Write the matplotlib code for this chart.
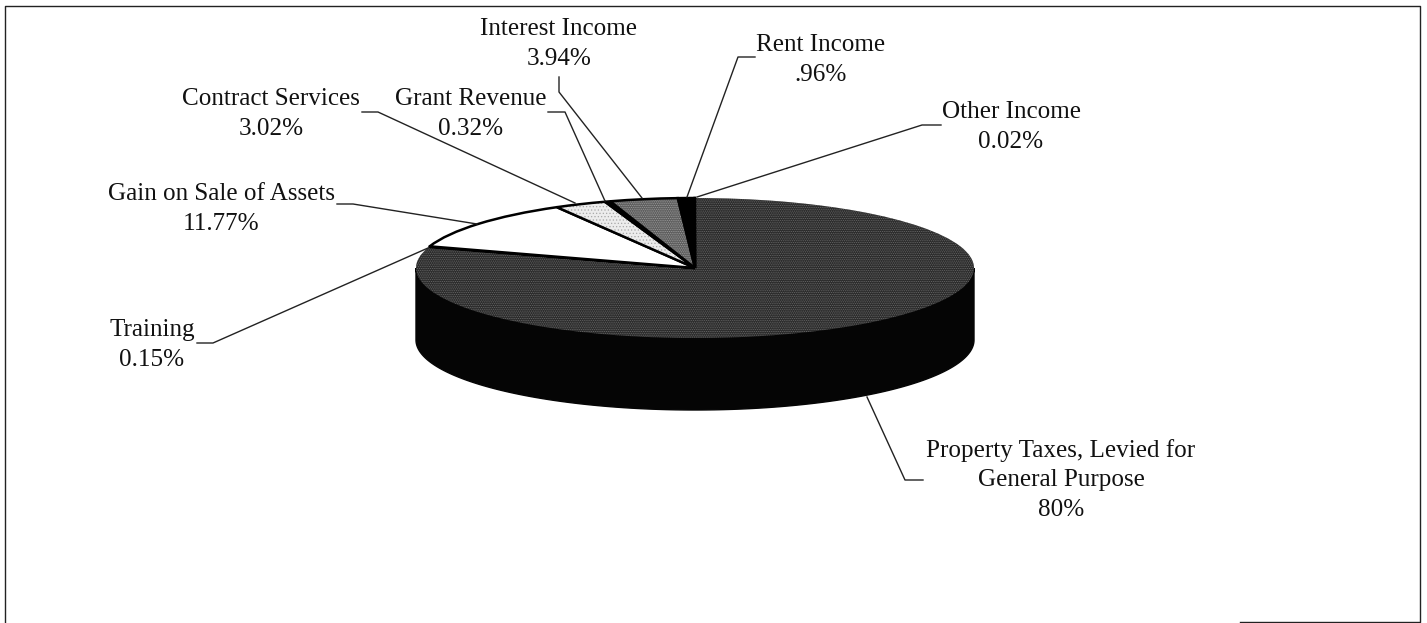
import numpy as np
import matplotlib
matplotlib.use('Agg')
import matplotlib.pyplot as plt
from matplotlib.patches import Wedge, Polygon
from matplotlib.transforms import Affine2D

plt.rcParams['font.family'] = ['Liberation Serif', 'DejaVu Serif']
plt.rcParams['hatch.linewidth'] = 0.5

# category labels, share text, and pie values (percent)
labels = ['Property Taxes, Levied for\nGeneral Purpose', 'Training', 'Gain on Sale of Assets',
          'Contract Services', 'Grant Revenue', 'Interest Income', 'Rent Income', 'Other Income']
pct_text = ['80%', '0.15%', '11.77%', '3.02%', '0.32%', '3.94%', '.96%', '0.02%']
values = [80, 0.15, 11.77, 3.02, 0.32, 3.94, 0.96, 0.02]
colors = ['#2a2a2a', '#ffffff', '#ffffff', '#ececec', '#000000', '#5c5c5c', '#000000', '#000000']
# dither of the scanned fills: dot colour and density per slice
dots = ['#6c6c6c', None, None, '#a8a8a8', None, '#a0a0a0', None, None]
dot_hatch = ['.........', None, None, '.....', None, '.........', None, None]

label_pos = [(1061, 480), (152, 345), (221, 209), (271, 114), (471, 114), (559, 44), (821, 60), (1011, 127)]
# leader line paths in picture pixels
leaders = [[(867, 397), (905, 480), (923, 480)],
           [(428, 248), (213, 343), (197, 343)],
           [(477, 224), (353, 204), (337, 204)],
           [(575, 203), (378, 112), (362, 112)],
           [(605, 201), (565, 112), (548, 112)],
           [(642, 198), (559, 92), (559, 77)],
           [(687, 197), (738, 57), (755, 57)],
           [(697, 197), (922, 125), (941, 125)]]
# frame pieces; the scan lost most of the bottom edge
frame = [[(5, 622), (5, 6), (1420, 6), (1420, 622), (1240, 622)]]

cx, cy = 695, 268
rx, ry = 279, 70
depth = 72

fig = plt.figure(figsize=(14.27, 6.23), dpi=100)
ax = fig.add_axes([0, 0, 1, 1])
ax.set_xlim(0, 1427)
ax.set_ylim(623, 0)
ax.axis('off')
for path in frame:
    xs, ys = zip(*path)
    ax.plot(xs, ys, color='#222222', lw=1)

# side wall of the pie (front half only)
t = np.linspace(0, np.pi, 200)
top_edge = np.c_[cx + rx * np.cos(t), cy + ry * np.sin(t)]
low_edge = np.c_[cx + rx * np.cos(t[::-1]), cy + depth + ry * np.sin(t[::-1])]
ax.add_patch(Polygon(np.r_[top_edge, low_edge], fc='#050505', ec='#050505', lw=1, zorder=2))

# slices squashed into an ellipse; picture y is flipped so angles grow clockwise on screen
squash = Affine2D().scale(rx, ry).translate(cx, cy) + ax.transData
angle = -90.0
for i, (val, col) in enumerate(zip(values, colors)):
    sweep = val / sum(values) * 360
    z = 3 if i == 0 else 4
    ax.add_patch(Wedge((0, 0), 1, angle, angle + sweep, fc=col, ec='none',
                       transform=squash, zorder=z))
    if dots[i]:
        ax.add_patch(Wedge((0, 0), 1, angle, angle + sweep, fill=False, ec=dots[i],
                           hatch=dot_hatch[i], lw=0, transform=squash, zorder=z))
    # the big slice has no visible outline
    if i > 0:
        ax.add_patch(Wedge((0, 0), 1, angle, angle + sweep, fill=False, ec='#000000', lw=1.8,
                           transform=squash, zorder=z))
    angle += sweep

for path in leaders:
    xs, ys = zip(*path)
    ax.plot(xs, ys, color='#222222', lw=1, zorder=5)

for lab, pct, (x, y) in zip(labels, pct_text, label_pos):
    ax.text(x, y, lab + '\n' + pct, ha='center', va='center', fontsize=18.1,
            linespacing=1.42, color='#111111', zorder=6)

fig.savefig('out.png', dpi=100)
